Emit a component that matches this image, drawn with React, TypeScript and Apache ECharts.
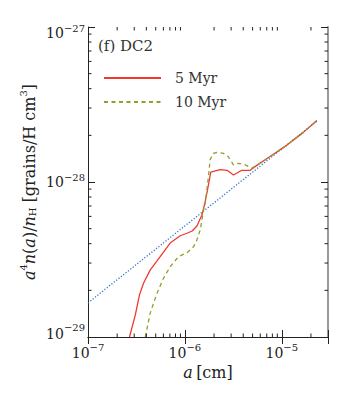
import React, { useEffect, useRef } from 'react';
import * as echarts from 'echarts';

// ---- axis ranges & tick labels ----
const X_MIN = 1e-7;
const X_MAX = 3e-5;
const Y_MIN = 1e-29;
const Y_MAX = 1e-27;
const xTickExponents = [-7, -6, -5];
const yTickExponents = [-29, -28, -27];
const minorMultipliers = [2, 3, 4, 5, 6, 7, 8, 9];

// ---- 5 Myr (red, solid) ----
const aRed = [
  2.68e-7, 3.08e-7, 3.4e-7, 3.74e-7, 4.38e-7, 5.56e-7, 7.05e-7, 8.94e-7, 1.05e-6, 1.19e-6,
  1.33e-6, 1.5e-6, 1.62e-6, 1.71e-6, 1.85e-6, 2.31e-6, 2.73e-6, 3.17e-6, 3.87e-6, 4.72e-6,
  5.52e-6, 7.57e-6, 1.13e-5, 1.67e-5, 2.3e-5,
];
const nRed = [
  1.0e-29, 1.39e-29, 1.87e-29, 2.22e-29, 2.7e-29, 3.3e-29, 4.04e-29, 4.5e-29, 4.67e-29, 4.83e-29,
  5.2e-29, 6.12e-29, 7.46e-29, 8.87e-29, 1.16e-28, 1.2e-28, 1.19e-28, 1.11e-28, 1.19e-28, 1.19e-28,
  1.28e-28, 1.46e-28, 1.73e-28, 2.09e-28, 2.49e-28,
];

// ---- 10 Myr (green, dashed) ----
const aGreen = [
  3.9e-7, 4.38e-7, 5.14e-7, 6.01e-7, 7.05e-7, 8.59e-7, 1.05e-6, 1.2e-6, 1.3e-6, 1.44e-6,
  1.56e-6, 1.62e-6, 1.75e-6, 1.82e-6, 1.96e-6, 2.14e-6, 2.5e-6, 2.82e-6, 3.17e-6, 3.57e-6,
  4.19e-6, 4.91e-6, 5.52e-6, 7.57e-6, 1.13e-5, 1.67e-5, 2.3e-5,
];
const nGreen = [
  1.0e-29, 1.42e-29, 1.91e-29, 2.39e-29, 2.84e-29, 3.3e-29, 3.5e-29, 3.75e-29, 4.05e-29, 4.9e-29,
  6.6e-29, 7.29e-29, 1.08e-28, 1.39e-28, 1.53e-28, 1.55e-28, 1.53e-28, 1.45e-28, 1.29e-28, 1.32e-28,
  1.29e-28, 1.23e-28, 1.28e-28, 1.46e-28, 1.73e-28, 2.09e-28, 2.49e-28,
];

// ---- MRN power law (blue, dotted) ----
const aMRN = [1e-7, 2.3e-5];
const nMRN = [1.66e-29, 2.47e-28];

const SERIF = '"DejaVu Serif", "Liberation Serif", serif';
const TXT = '#222';
const MAJOR = 7;
const MINOR = 3.5;

const zip = (a: number[], b: number[]) => a.map((v, i) => [v, b[i]]);

const decade = (v: number, exps: number[]) => {
  const l = Math.log10(v);
  const e = Math.round(l);
  return Math.abs(l - e) < 1e-6 && exps.includes(e) ? e : null;
};

const minorValues = (lo: number, hi: number) => {
  const out: number[] = [];
  for (let e = Math.floor(Math.log10(lo)); e <= Math.ceil(Math.log10(hi)); e++) {
    for (const m of minorMultipliers) {
      const v = m * Math.pow(10, e);
      if (v > lo * 1.0001 && v < hi * 0.9999) out.push(v);
    }
  }
  return out;
};

export default function App() {
  const ref = useRef<HTMLDivElement>(null);

  useEffect(() => {
    document.body.style.margin = '0';
    if (!ref.current) return;
    const chart = echarts.init(ref.current, null, { renderer: 'svg' });

    const tickLine = (x1: number, y1: number, x2: number, y2: number) => ({
      type: 'line',
      shape: { x1, y1, x2, y2 },
      style: { stroke: TXT, lineWidth: 1 },
    });

    const xMinor = minorValues(X_MIN, X_MAX);
    const yMinor = minorValues(Y_MIN, Y_MAX);

    const baseAxis = {
      type: 'log',
      logBase: 10,
      axisLine: { show: true, lineStyle: { color: TXT, width: 1 } },
      axisTick: { show: true, inside: true, length: MAJOR, lineStyle: { color: TXT, width: 1 } },
      splitLine: { show: false },
      minorTick: { show: false },
    };

    // y tick label styles: top label sits a bit below its tick, bottom one a bit above
    const yRich = {
      t0: { fontFamily: SERIF, fontSize: 14, color: TXT, padding: [12, 0, 0, 0] },
      t1: { fontFamily: SERIF, fontSize: 10, color: TXT, padding: [3, 0, 0, 0] },
      m0: { fontFamily: SERIF, fontSize: 14, color: TXT },
      m1: { fontFamily: SERIF, fontSize: 10, color: TXT, padding: [0, 0, 10, 0] },
      b0: { fontFamily: SERIF, fontSize: 14, color: TXT, padding: [0, 0, 7, 0] },
      b1: { fontFamily: SERIF, fontSize: 10, color: TXT, padding: [0, 0, 19, 0] },
    };

    const titleRich = {
      i: { fontFamily: SERIF, fontStyle: 'italic', fontSize: 16, color: TXT },
      r: { fontFamily: SERIF, fontSize: 16, color: TXT },
      sup: { fontFamily: SERIF, fontSize: 10, color: TXT, padding: [0, 0, 12, 0] },
      sub: { fontFamily: SERIF, fontSize: 10, color: TXT, padding: [6, 0, 0, 0] },
    };

    const option: any = {
      animation: false,
      backgroundColor: '#fff',
      grid: {
        left: 88,
        top: 27,
        right: 26,
        bottom: 56,
        containLabel: false,
        outerBoundsMode: 'none',
      },
      legend: {
        data: ['5 Myr', '10 Myr'],
        orient: 'vertical',
        left: 98,
        top: 66,
        itemWidth: 57,
        itemHeight: 14,
        itemGap: 10,
        itemStyle: { opacity: 0 },
        textStyle: { fontFamily: SERIF, fontSize: 14, color: '#333', padding: [0, 0, 0, 9] },
        selectedMode: false,
      },
      graphic: [
        {
          type: 'text',
          left: 98,
          top: 38,
          style: { text: '(f) DC2', fontFamily: SERIF, fontSize: 15, fill: '#333' },
        },
        {
          type: 'text',
          x: 29,
          y: 182,
          rotation: Math.PI / 2,
          silent: true,
          style: {
            text: '{i|a}{sup|4}{i|n}{r|(}{i|a}{r|)/}{i|n}{sub|H}{r| [grains/H cm}{sup|3}{r|]}',
            rich: titleRich,
            align: 'center',
            verticalAlign: 'middle',
            fill: TXT,
          },
        },
      ],
      xAxis: [
        {
          ...baseAxis,
          position: 'bottom',
          min: X_MIN,
          max: X_MAX,
          name: '{i|a} {r|[cm]}',
          nameLocation: 'middle',
          nameGap: 34,
          nameTextStyle: {
            verticalAlign: 'middle',
            rich: {
              i: { fontFamily: SERIF, fontStyle: 'italic', fontSize: 16, color: TXT },
              r: { fontFamily: SERIF, fontSize: 16, color: TXT },
            },
          },
          axisLabel: {
            show: true,
            margin: 16,
            verticalAlign: 'middle',
            showMinLabel: true,
            hideOverlap: false,
            formatter: (v: number) => {
              const e = decade(v, xTickExponents);
              return e === null ? '' : `{b|10}{s|\u2212${-e}}`;
            },
            rich: {
              b: { fontFamily: SERIF, fontSize: 14, color: TXT },
              s: { fontFamily: SERIF, fontSize: 10, color: TXT, padding: [0, 0, 12, 0] },
            },
          },
        },
        {
          ...baseAxis,
          position: 'top',
          min: X_MIN,
          max: X_MAX,
          axisLabel: { show: false },
        },
      ],
      yAxis: [
        {
          ...baseAxis,
          position: 'left',
          min: Y_MIN,
          max: Y_MAX,
          axisLabel: { show: false },
        },
        {
          ...baseAxis,
          position: 'right',
          min: Y_MIN,
          max: Y_MAX,
          axisLine: { show: true, lineStyle: { color: '#999', width: 2 } },
          axisLabel: { show: false },
        },
      ],
      series: [
        {
          type: 'line',
          name: 'MRN',
          data: zip(aMRN, nMRN),
          symbol: 'none',
          showSymbol: false,
          silent: true,
          z: 2,
          lineStyle: { color: '#2f6fd0', width: 1.3, type: [1.2, 1.8] },
          itemStyle: { color: '#2f6fd0' },
        },
        {
          type: 'line',
          name: '5 Myr',
          data: zip(aRed, nRed),
          symbol: 'none',
          showSymbol: false,
          silent: true,
          z: 3,
          lineStyle: { color: '#f03a30', width: 1.3 },
          itemStyle: { color: '#f03a30' },
        },
        {
          type: 'line',
          name: '10 Myr',
          data: zip(aGreen, nGreen),
          symbol: 'none',
          showSymbol: false,
          silent: true,
          z: 4,
          lineStyle: { color: '#8ca12a', width: 1.3, type: [4, 3.5] },
          itemStyle: { color: '#8ca12a' },
        },
        {
          type: 'custom',
          name: 'xminor',
          xAxisIndex: 0,
          yAxisIndex: 0,
          silent: true,
          clip: false,
          z: 10,
          data: xMinor.map((v) => [v, Y_MIN]),
          renderItem: (_p: any, api: any) => {
            const v = api.value(0);
            const b = api.coord([v, Y_MIN]);
            const t = api.coord([v, Y_MAX]);
            return {
              type: 'group',
              children: [
                tickLine(b[0], b[1], b[0], b[1] - MINOR),
                tickLine(t[0], t[1], t[0], t[1] + MINOR),
              ],
            };
          },
        },
        {
          type: 'custom',
          name: 'yminor',
          xAxisIndex: 0,
          yAxisIndex: 0,
          silent: true,
          clip: false,
          z: 10,
          data: yMinor.map((v) => [X_MIN, v]),
          renderItem: (_p: any, api: any) => {
            const v = api.value(1);
            const l = api.coord([X_MIN, v]);
            const r = api.coord([X_MAX, v]);
            return {
              type: 'group',
              children: [
                tickLine(l[0], l[1], l[0] + MINOR, l[1]),
                tickLine(r[0], r[1], r[0] - MINOR, r[1]),
              ],
            };
          },
        },
        {
          // y tick labels (10^-27, 10^-28, 10^-29), placed through the y scale
          type: 'custom',
          name: 'ylabels',
          xAxisIndex: 0,
          yAxisIndex: 0,
          silent: true,
          clip: false,
          z: 10,
          data: yTickExponents.map((e) => [X_MIN, Math.pow(10, e), e]),
          renderItem: (_p: any, api: any) => {
            const e = api.value(2);
            const c = api.coord([X_MIN, api.value(1)]);
            const k = e === -27 ? 't' : e === -29 ? 'b' : 'm';
            return {
              type: 'text',
              x: c[0] - 3,
              y: c[1],
              style: {
                text: `{${k}0|10}{${k}1|\u2212${-e}}`,
                rich: yRich,
                align: 'right',
                verticalAlign: 'middle',
                fill: TXT,
              },
            };
          },
        },
      ],
    };

    chart.setOption(option);
    return () => chart.dispose();
  }, []);

  return <div ref={ref} style={{ width: 354, height: 393 }} />;
}
